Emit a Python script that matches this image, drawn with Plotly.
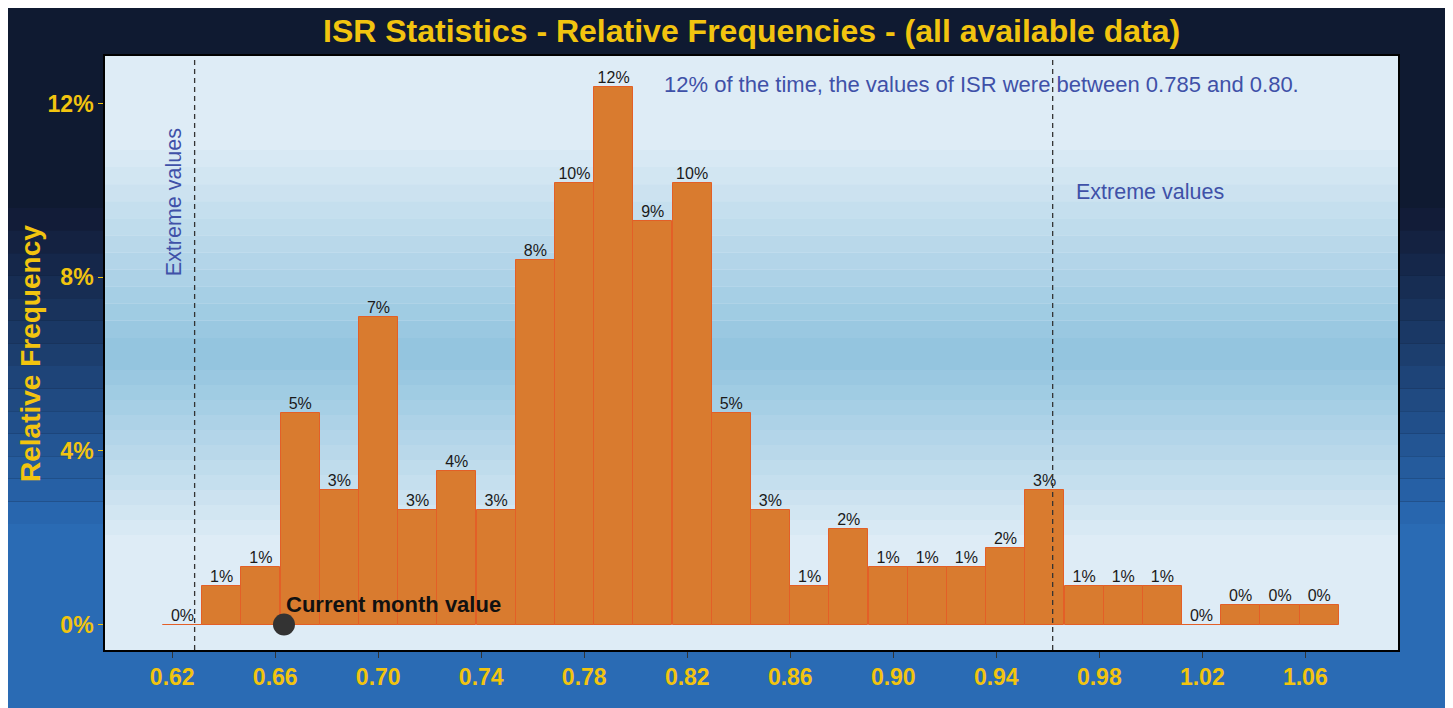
import plotly.graph_objects as go

# ---------------- data ----------------
bin_centers = [0.6240, 0.6392, 0.6544, 0.6697, 0.6849, 0.7001, 0.7153, 0.7305, 0.7458, 0.7610,
               0.7762, 0.7914, 0.8066, 0.8219, 0.8371, 0.8523, 0.8675, 0.8827, 0.8980, 0.9132,
               0.9284, 0.9436, 0.9588, 0.9741, 0.9893, 1.0045, 1.0197, 1.0349, 1.0502, 1.0654]
rel_freq_pct = [0.00, 0.88, 1.33, 4.87, 3.10, 7.08, 2.65, 3.54, 2.65, 8.41,
                10.18, 12.39, 9.29, 10.18, 4.87, 2.65, 0.88, 2.21, 1.33, 1.33,
                1.33, 1.77, 3.10, 0.88, 0.88, 0.88, 0.00, 0.44, 0.44, 0.44]
bar_labels = [f"{round(v):.0f}%" for v in rel_freq_pct]
bin_width = 0.0152

x_tick_vals = [0.62, 0.66, 0.70, 0.74, 0.78, 0.82, 0.86, 0.90, 0.94, 0.98, 1.02, 1.06]
x_tick_text = ["0.62", "0.66", "0.70", "0.74", "0.78", "0.82", "0.86", "0.90", "0.94", "0.98", "1.02", "1.06"]
y_tick_vals = [0, 4, 8, 12]
y_tick_text = ["0%", "4%", "8%", "12%"]

extreme_low = 0.6287
extreme_high = 0.9619
current_value = 0.6634

title_text = "ISR Statistics - Relative Frequencies - (all available data)"
note_text = "12% of the time, the values of ISR were between 0.785 and 0.80."

# ---------------- layout geometry (page px -> figure px, page has 8px body margin) ----------------
OFF = 8
W, H = 1442, 700
ML, MR, MT, MB = 97, 52, 48, 58
PW, PH = W - ML - MR, H - MT - MB

def px_x(X):
    return (X - OFF - ML) / PW

def px_y(Y):
    return (H - MB - (Y - OFF)) / PH

FONT = "Liberation Sans, Arial, sans-serif"
YELLOW = "#F2C40F"
BLUE_TXT = "#3F51A8"

def lerp(c1, c2, t):
    return "#%02x%02x%02x" % tuple(round(a + (b - a) * t) for a, b in zip(c1, c2))

shapes = []
# outer gradient bands (paper background is the dark colour)
dark, blue = (18, 28, 56), (40, 102, 174)
n_out = 14
y_start, y_end = 208, 524
step = (y_end - y_start) / n_out
for i in range(n_out):
    shapes.append(dict(type="rect", xref="paper", yref="paper", layer="below",
                       x0=px_x(0), x1=px_x(1460),
                       y0=px_y(y_start + (i + 1) * step), y1=px_y(y_start + i * step),
                       fillcolor=lerp(dark, blue, i / (n_out - 1)), line=dict(width=0)))
shapes.append(dict(type="rect", xref="paper", yref="paper", layer="below",
                   x0=px_x(0), x1=px_x(1460), y0=px_y(720), y1=px_y(y_end),
                   fillcolor="#2a6bb4", line=dict(width=0)))

# panel background gradient
light, mid = (222, 236, 246), (148, 197, 223)
shapes.append(dict(type="rect", xref="paper", yref="paper", layer="below",
                   x0=0, x1=1, y0=0, y1=1, fillcolor="#deecf6", line=dict(width=0)))
n_in = 12
top_y, mid_y, bot_y = 150, 355, 535
s1 = (mid_y - top_y) / n_in
for i in range(n_in):
    shapes.append(dict(type="rect", xref="paper", yref="paper", layer="below",
                       x0=0, x1=1, y0=px_y(top_y + (i + 1) * s1), y1=px_y(top_y + i * s1),
                       fillcolor=lerp(light, mid, (i + 1) / n_in), line=dict(width=0)))
s2 = (bot_y - mid_y) / n_in
for i in range(n_in):
    shapes.append(dict(type="rect", xref="paper", yref="paper", layer="below",
                       x0=0, x1=1, y0=px_y(mid_y + (i + 1) * s2), y1=px_y(mid_y + i * s2),
                       fillcolor=lerp(mid, light, i / n_in), line=dict(width=0)))

# dashed extreme lines
for xv in (extreme_low, extreme_high):
    shapes.append(dict(type="line", xref="x", yref="paper", layer="above",
                       x0=xv, x1=xv, y0=0, y1=1,
                       line=dict(color="#333333", width=1.3, dash="5px,4px")))

fig = go.Figure()
fig.add_trace(go.Bar(
    x=bin_centers, y=rel_freq_pct, width=bin_width,
    marker=dict(color="#D97B2F", line=dict(color="#E35F27", width=1)),
    hoverinfo="x+y", showlegend=False))
fig.add_trace(go.Scatter(
    x=bin_centers, y=rel_freq_pct, text=bar_labels, mode="text",
    textposition="top center", textfont=dict(family=FONT, size=16, color="#1a1a1a"),
    showlegend=False, cliponaxis=False, hoverinfo="skip"))
fig.add_trace(go.Scatter(
    x=[current_value], y=[0], mode="markers",
    marker=dict(size=22, color="#333333"), showlegend=False, cliponaxis=False))

annotations = [
    dict(text=title_text, xref="paper", yref="paper", x=0.5, y=px_y(31),
         xanchor="center", yanchor="middle", showarrow=False,
         font=dict(family=FONT, size=32, color=YELLOW, weight="bold")),
    dict(text="Relative Frequency", xref="paper", yref="paper", x=px_x(30), y=px_y(354),
         xanchor="center", yanchor="middle", textangle=-90, showarrow=False,
         font=dict(family=FONT, size=28, color=YELLOW, weight="bold")),
    dict(text="Extreme values", xref="x", yref="y", x=0.6207, y=9.73,
         xanchor="center", yanchor="middle", textangle=-90, showarrow=False,
         font=dict(family=FONT, size=21.5, color=BLUE_TXT)),
    dict(text="Extreme values", xref="x", yref="y", x=0.9702, y=9.97,
         xanchor="left", yanchor="middle", showarrow=False,
         font=dict(family=FONT, size=21.5, color=BLUE_TXT)),
    dict(text=note_text, xref="x", yref="y", x=0.8102, y=12.45,
         xanchor="left", yanchor="middle", showarrow=False,
         font=dict(family=FONT, size=22, color=BLUE_TXT)),
    dict(text="Current month value", xref="x", yref="y", x=current_value, y=0.47,
         xanchor="left", yanchor="middle", showarrow=False,
         font=dict(family=FONT, size=22, color="#111111", weight="bold")),
]

fig.update_layout(
    width=W, height=H,
    margin=dict(l=ML, r=MR, t=MT, b=MB, pad=0),
    paper_bgcolor="#0f1a31", plot_bgcolor="rgba(0,0,0,0)",
    shapes=shapes, annotations=annotations,
    bargap=0,
    xaxis=dict(range=[0.5939, 1.0960], tickvals=x_tick_vals, ticktext=x_tick_text,
               showgrid=False, zeroline=False, ticks="outside", ticklen=6,
               tickcolor="#333333", tickwidth=1.2,
               showline=True, mirror=True, linecolor="black", linewidth=1.6,
               tickfont=dict(family=FONT, size=23, color=YELLOW, weight="bold")),
    yaxis=dict(range=[-0.5876, 13.10], tickvals=y_tick_vals, ticktext=y_tick_text,
               showgrid=False, zeroline=False, ticks="outside", ticklen=5,
               tickcolor=YELLOW, tickwidth=1.2,
               showline=True, mirror=True, linecolor="black", linewidth=1.6,
               tickfont=dict(family=FONT, size=23, color=YELLOW, weight="bold")),
)

fig.write_html("out.html")
